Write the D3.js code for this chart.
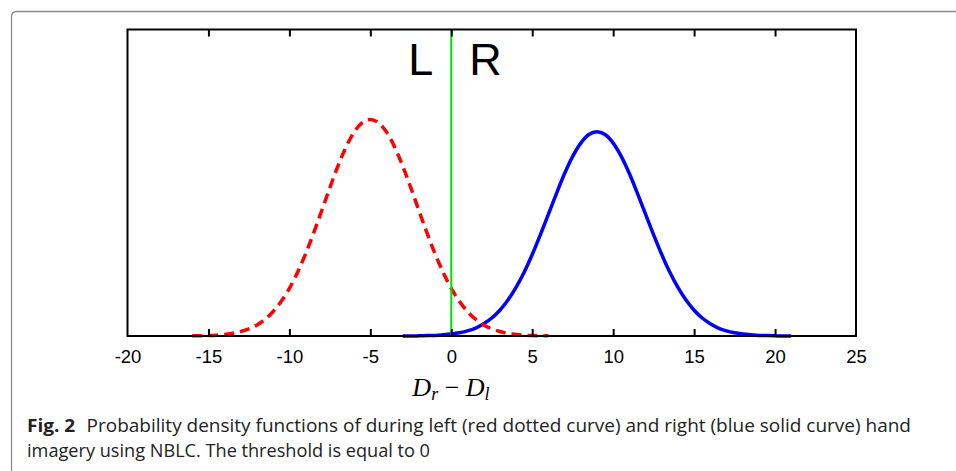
<!DOCTYPE html>
<html><head><meta charset="utf-8">
<script src="https://cdn.jsdelivr.net/npm/d3@7"></script>
<style>html,body{margin:0;padding:0;background:#fff;}svg{display:block;}</style>
</head><body>
<svg id="chart" width="956" height="471"></svg>
<script>
// x ticks
const xTicks = [-20, -15, -10, -5, 0, 5, 10, 15, 20, 25];
// Left-hand imagery (red dashed): x from -16 to 6, step 0.5
const leftX = d3.range(-16, 6.01, 0.5);
const leftY = [0.0001,0.0001,0.0002,0.0004,0.0008,0.0013,0.0022,0.0035,0.0054,0.0082,0.0120,0.0170,0.0233,0.0311,0.0402,0.0505,0.0614,0.0726,0.0832,0.0925,0.0998,0.1044,0.1060,0.1044,0.0998,0.0925,0.0832,0.0726,0.0614,0.0505,0.0402,0.0311,0.0233,0.0170,0.0120,0.0082,0.0054,0.0035,0.0022,0.0013,0.0008,0.0004,0.0002,0.0001,0.0001];
// Right-hand imagery (blue solid): x from -3 to 21, step 0.5
const rightX = d3.range(-3, 21.01, 0.5);
const rightY = [0.0000,0.0000,0.0001,0.0002,0.0003,0.0006,0.0010,0.0016,0.0025,0.0039,0.0060,0.0088,0.0126,0.0176,0.0238,0.0312,0.0399,0.0495,0.0596,0.0698,0.0795,0.0879,0.0944,0.0986,0.1000,0.0986,0.0944,0.0879,0.0795,0.0698,0.0596,0.0495,0.0399,0.0312,0.0238,0.0176,0.0126,0.0088,0.0060,0.0039,0.0025,0.0016,0.0010,0.0006,0.0003,0.0002,0.0001,0.0000,0.0000];
const threshold = 0;

const svg = d3.select("#chart");
const L = 127.5, R = 856, T = 29.5, B = 336;
const x = d3.scaleLinear().domain([-20, 25]).range([L, R]);
const y = d3.scaleLinear().domain([0, 0.15]).range([B, T]);

// card border
svg.append("path")
  .attr("d", `M11.5,480 L11.5,17 Q11.5,11.5 17,11.5 L970,11.5`)
  .attr("fill", "none").attr("stroke", "#8a8a8a").attr("stroke-width", 1.3);

// curves
const line = d3.line().x(d => x(d[0])).y(d => y(d[1])).curve(d3.curveMonotoneX);
svg.append("path").datum(rightX.map((v, i) => [v, rightY[i]]))
  .attr("d", line).attr("fill", "none").attr("stroke", "#0000ff").attr("stroke-width", 3.5)
  .attr("stroke-linejoin", "round");
svg.append("path").datum(leftX.map((v, i) => [v, leftY[i]]))
  .attr("d", line).attr("fill", "none").attr("stroke", "#ff0000").attr("stroke-width", 3.5)
  .attr("stroke-dasharray", "10,6");

// threshold
svg.append("line").attr("x1", x(threshold)).attr("x2", x(threshold))
  .attr("y1", T).attr("y2", B).attr("stroke", "#00e000").attr("stroke-width", 2);

// frame
svg.append("rect").attr("x", L).attr("y", T).attr("width", R - L).attr("height", B - T)
  .attr("fill", "none").attr("stroke", "#000").attr("stroke-width", 2);

// axes with inward ticks
const axB = svg.append("g").attr("transform", `translate(0,${B})`)
  .call(d3.axisBottom(x).tickValues(xTicks).tickSizeInner(-7).tickSizeOuter(0).tickPadding(14).tickFormat(d => String(d)));
axB.select(".domain").remove();
axB.selectAll(".tick line").attr("stroke-width", 2).filter(d => d === -20 || d === 25).remove();
axB.selectAll("text").attr("font-family", "Liberation Sans, Arial, sans-serif").attr("font-size", 18.5).attr("fill", "#000");

const axT = svg.append("g").attr("transform", `translate(0,${T})`)
  .call(d3.axisTop(x).tickValues(xTicks).tickSizeInner(-7).tickSizeOuter(0).tickFormat(""));
axT.select(".domain").remove();
axT.selectAll(".tick line").attr("stroke-width", 2).filter(d => d === -20 || d === 25).remove();

// L / R labels
svg.append("text").attr("x", x(threshold) - 18).attr("y", 75).attr("text-anchor", "end")
  .attr("font-family", "Liberation Sans, Arial, sans-serif").attr("font-size", 45).text("L");
svg.append("text").attr("x", x(threshold) + 18).attr("y", 75).attr("text-anchor", "start")
  .attr("font-family", "Liberation Sans, Arial, sans-serif").attr("font-size", 45).text("R");

// x-axis label
const xl = svg.append("text").attr("x", 451).attr("y", 396).attr("text-anchor", "middle")
  .attr("font-family", "Liberation Serif, Times New Roman, serif").attr("font-size", 26).attr("font-style", "italic");
xl.append("tspan").text("D");
xl.append("tspan").attr("font-size", 18).attr("dy", 4).text("r");
xl.append("tspan").attr("dy", -4).attr("font-style", "normal").text(" \u2212 ");
xl.append("tspan").text("D");
xl.append("tspan").attr("font-size", 18).attr("dy", 4).text("l");

// caption
const cap1 = svg.append("text").attr("x", 27).attr("y", 432)
  .attr("font-family", "Open Sans, Noto Sans, sans-serif").attr("font-size", 17.5).attr("fill", "#222")
  .attr("textLength", 884).attr("lengthAdjust", "spacingAndGlyphs");
cap1.append("tspan").attr("font-weight", "bold").text("Fig. 2");
cap1.append("tspan").attr("dx", 6).text(" Probability density functions of during left (red dotted curve) and right (blue solid curve) hand");
svg.append("text").attr("x", 27).attr("y", 457)
  .attr("font-family", "Open Sans, Noto Sans, sans-serif").attr("font-size", 17.5).attr("fill", "#222")
  .attr("textLength", 403).attr("lengthAdjust", "spacingAndGlyphs")
  .text("imagery using NBLC. The threshold is equal to 0");
</script>
</body></html>
